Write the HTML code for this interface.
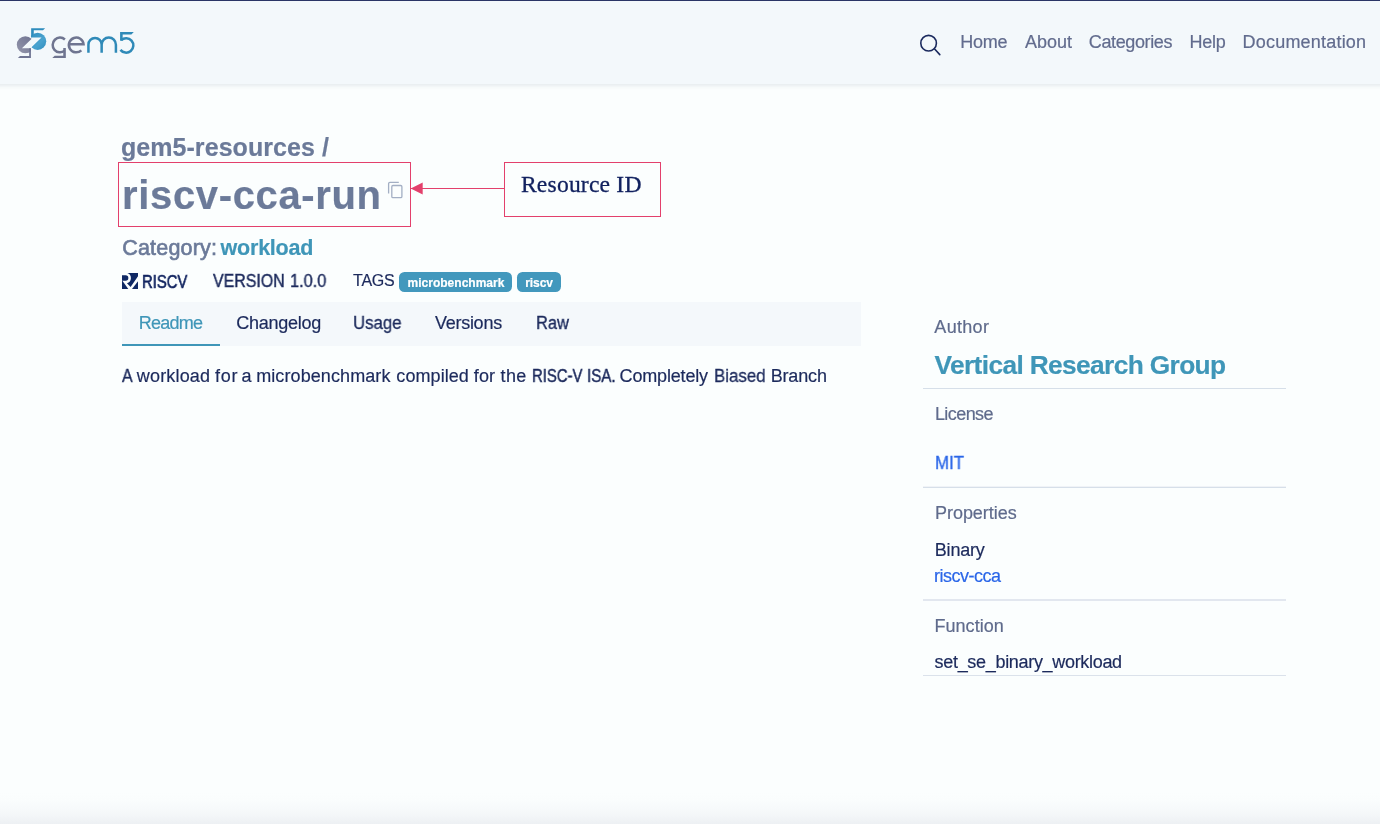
<!DOCTYPE html>
<html lang="en">
<head>
<meta charset="utf-8">
<title>gem5 Resources - riscv-cca-run</title>
<style>
*{box-sizing:border-box;margin:0;padding:0}
html,body{width:1380px;height:824px;overflow:hidden}
body{background:#fbfefe;font-family:"Liberation Sans",sans-serif;color:#1f2d5c;position:relative}
.t{position:absolute;white-space:nowrap;line-height:1;-webkit-text-stroke:0.2px}
.a{position:absolute}
#header{left:-30px;top:0;width:1440px;height:84px;background:#f3f8fb;box-shadow:0 1px 5px rgba(120,135,150,.22)}
#topline{left:0;top:0;width:1380px;height:1px;background:#2a3566}
#botgrad{left:0;top:792px;width:1380px;height:32px;background:linear-gradient(#fbfefe 0%,#fafdfd 25%,#f7fafb 50%,#f3f6f8 75%,#edf0f3 100%)}
.hr{position:absolute;left:923px;width:363px;height:1px;background:#d6dfe9}
.badge{position:absolute;top:271.8px;height:20.5px;border-radius:5.5px;background:#4298bd}
.pk{border:1px solid #e3406c}
</style>
</head>
<body>
<div id="wrap" style="position:absolute;left:0;top:0;width:1380px;height:824px;will-change:transform">
<div class="a" id="header"></div>
<div class="a" id="topline"></div>

<!-- logo -->
<svg class="a" style="left:0;top:0" width="150" height="70" viewBox="0 0 150 70">
<defs>
<linearGradient id="gg" x1="0" y1="1" x2="1" y2="0"><stop offset="0" stop-color="#9496ab"/><stop offset="1" stop-color="#6d7290"/></linearGradient>
<linearGradient id="gb" x1="0" y1="0" x2="1" y2="1"><stop offset="0" stop-color="#2e8cbd"/><stop offset=".6" stop-color="#4aa3cf"/><stop offset="1" stop-color="#2e8cbd"/></linearGradient>
<clipPath id="cg"><path d="M0 0 H455 V290 L215 525 H410 V800 H0 Z"/></clipPath>
<clipPath id="cb"><path d="M415 0 H900 V900 H400 V525 L640 290 H415 Z"/></clipPath>
</defs>
<g transform="translate(12,24) scale(0.046136)">
<g clip-path="url(#cg)"><circle cx="290" cy="450" r="186" fill="url(#gg)"/></g>
<path d="M372 525 H410 V737 H128 L173 692 H372 Z" fill="#6f7492"/>
<g clip-path="url(#cb)"><circle cx="556" cy="375" r="186" fill="url(#gb)"/></g>
<path d="M415 90 H718 L672 136 H472 V215 L415 300 Z" fill="#2e8cbd"/>
</g>
<g transform="translate(46,24) scale(0.069565)" fill="none" stroke-width="36">
<path d="M272 222 A106 106 0 1 0 266 386" stroke="#6f7590"/>
<path d="M248 345 H285 V490 H90 L125 455 H248 Z" fill="#6f7590" stroke="none"/>
<path d="M338 292 H540 A106 106 0 1 0 508 378" stroke="#6f7590"/>
<path d="M610 415 V297 A95 95 0 0 1 800 297 V415 M800 297 A102 102 0 0 1 1005 297 V415" stroke="#2f8ab8"/>
<path d="M1065 115 H1262 L1227 152 H1102 V240 H1065 Z" fill="#2f8ab8" stroke="none"/><path d="M1080 232 A104 104 0 1 1 1070 372" stroke="#2f8ab8"/>
</g>
</svg>


<!-- nav -->
<svg class="a" style="left:917px;top:32px" width="26" height="26" viewBox="0 0 26 26" fill="none" stroke="#1b2a5e" stroke-width="1.6" stroke-linecap="round"><circle cx="11.6" cy="11.2" r="7.8"/><path d="M17.4 16.8 L22.8 22.6"/></svg>
<div class="t" style="left:960.2px;top:33.4px;font-size:18px;color:#626c8e;letter-spacing:-0.267px">Home</div><div class="t" style="left:1025.1px;top:33.4px;font-size:18px;color:#626c8e;letter-spacing:-0.05px">About</div><div class="t" style="left:1088.85px;top:33.4px;font-size:18px;color:#626c8e;letter-spacing:-0.389px">Categories</div><div class="t" style="left:1189.55px;top:33.4px;font-size:18px;color:#626c8e;letter-spacing:-0.3px">Help</div><div class="t" style="left:1242.6px;top:33.4px;font-size:18px;color:#626c8e;letter-spacing:0.2px">Documentation</div>

<!-- title block -->
<div class="t" style="left:120.9px;top:134.9px;font-size:25px;font-weight:bold;color:#6b7a99;letter-spacing:0.067px">gem5-resources /</div>
<div class="a pk" style="left:118px;top:162px;width:293px;height:65px"></div>
<div class="t" style="left:122.0px;top:174.9px;font-size:40px;font-weight:bold;color:#6b7a99;letter-spacing:0.65px">riscv-cca-run</div>
<svg class="a" style="left:386px;top:180px" width="20" height="20" viewBox="0 0 20 20" fill="none" stroke="#a3afc4" stroke-width="1.3"><path d="M2.6 13.6 V3.7 a1.3 1.3 0 0 1 1.3 -1.3 H12.8"/><rect x="5.8" y="5.5" width="10.1" height="12.1" rx="1.2"/></svg>

<!-- annotation -->
<div class="a" style="left:411px;top:188px;width:94px;height:1px;background:#e3406c"></div>
<svg class="a" style="left:410px;top:182px" width="14" height="13" viewBox="0 0 14 13"><path d="M0.7 6.5 L12.7 0.5 V12.5 Z" fill="#e3406c"/></svg>
<div class="a pk" style="left:504px;top:162px;width:157px;height:55px"></div>
<div class="t" style="left:520.95px;top:172.9px;font-family:&quot;Liberation Serif&quot;,serif;font-size:23.6px;-webkit-text-stroke:0.3px #11215f;color:#11215f;letter-spacing:0.19px">Resource ID</div>

<!-- category -->
<div class="t" style="left:122.2px;top:238.2px;font-size:21.5px;-webkit-text-stroke:0.65px #6b7a99;color:#6b7a99;letter-spacing:0.2px">Category:</div><div class="t" style="left:220.6px;top:238.2px;font-size:21.5px;font-weight:bold;color:#3f96b8;letter-spacing:-0.229px">workload</div>

<!-- meta row -->
<svg class="a" style="left:122px;top:273px" width="16" height="16" viewBox="0 0 16 16" fill="#0f2864"><path d="M0 2.2 H3.6 a2.75 2.75 0 0 1 0 5.5 H0 Z"/><path d="M5.33 0 H16 V3.35 L8.6 14.1 L4.96 10.3 A5.41 5.41 0 0 0 5.33 0 Z"/><path d="M0 7.7 H0.36 L6.3 16 H0 Z"/><path d="M16 8.3 V16 H10 Z"/></svg>

<div class="t" style="left:142.08px;top:272.6px;font-size:18px;-webkit-text-stroke:0.6px #10235f;color:#10235f;transform:scaleX(0.8236);transform-origin:0 0;will-change:transform">RISCV</div><div class="t" style="left:213.0px;top:272.2px;font-size:18px;-webkit-text-stroke:0.45px #1c2a5c;color:#1c2a5c;transform:scaleX(0.885);transform-origin:0 0;will-change:transform">VERSION</div><div class="t" style="left:290.09px;top:272.2px;font-size:18px;color:#1c2a5c;-webkit-text-stroke:0.35px;transform:scaleX(0.9077);transform-origin:0 0;will-change:transform">1.0.0</div><div class="t" style="left:353.05px;top:272.6px;font-size:16px;color:#1c2a5c;letter-spacing:-0.233px">TAGS</div>
<div class="badge" style="left:399px;width:113px"></div>
<div class="badge" style="left:517px;width:44px"></div>
<div class="t" style="left:407.5px;top:276.9px;font-size:12px;font-weight:bold;color:#fff;letter-spacing:0.015px">microbenchmark</div><div class="t" style="left:525.25px;top:276.9px;font-size:12px;font-weight:bold;color:#fff;letter-spacing:-0.075px">riscv</div>

<!-- tabs -->
<div class="a" style="left:122px;top:302px;width:739px;height:44px;background:#f4f8fb"></div>
<div class="a" style="left:122px;top:344px;width:98px;height:2px;background:#3f96b8"></div>
<div class="t" style="left:138.7px;top:314.4px;font-size:18px;color:#3f96b8;letter-spacing:-0.72px">Readme</div><div class="t" style="left:236.2px;top:314.4px;font-size:18px;color:#1c2a5c;letter-spacing:-0.25px">Changelog</div><div class="t" style="left:352.67px;top:314.4px;font-size:18px;color:#1c2a5c;-webkit-text-stroke:0.31px;transform:scaleX(0.9333);transform-origin:0 0;will-change:transform">Usage</div><div class="t" style="left:434.9px;top:314.4px;font-size:18px;color:#1c2a5c;letter-spacing:-0.257px">Versions</div><div class="t" style="left:535.59px;top:314.4px;font-size:18px;color:#1c2a5c;-webkit-text-stroke:0.34px;transform:scaleX(0.9143);transform-origin:0 0;will-change:transform">Raw</div>

<div class="t" style="left:122.0px;top:366.7px;font-size:18px;color:#1c2a5c;-webkit-text-stroke:0.39px;transform:scaleX(0.8833);transform-origin:0 0;will-change:transform">A</div><div class="t" style="left:136.8px;top:366.7px;font-size:18px;color:#1c2a5c;letter-spacing:0.171px">workload</div><div class="t" style="left:214.9px;top:366.7px;font-size:18px;color:#1c2a5c;letter-spacing:0.8px">for</div><div class="t" style="left:241.6px;top:366.7px;font-size:18px;color:#1c2a5c">a</div><div class="t" style="left:256.2px;top:366.7px;font-size:18px;color:#1c2a5c;letter-spacing:0.092px">microbenchmark</div><div class="t" style="left:396.35px;top:366.7px;font-size:18px;color:#1c2a5c;letter-spacing:0.071px">compiled</div><div class="t" style="left:473.8px;top:366.7px;font-size:18px;color:#1c2a5c;letter-spacing:0.1px">for</div><div class="t" style="left:500.5px;top:366.7px;font-size:18px;color:#1c2a5c;letter-spacing:0.4px">the</div><div class="t" style="left:531.77px;top:366.7px;font-size:18px;color:#1c2a5c;-webkit-text-stroke:0.48px;transform:scaleX(0.8267);transform-origin:0 0;will-change:transform">RISC-V</div><div class="t" style="left:586.86px;top:366.7px;font-size:18px;color:#1c2a5c;-webkit-text-stroke:0.46px;transform:scaleX(0.8406);transform-origin:0 0;will-change:transform">ISA.</div><div class="t" style="left:619.55px;top:366.7px;font-size:18px;color:#1c2a5c;letter-spacing:-0.167px">Completely</div><div class="t" style="left:714.36px;top:366.7px;font-size:18px;color:#1c2a5c;-webkit-text-stroke:0.30px;transform:scaleX(0.9377);transform-origin:0 0;will-change:transform">Biased</div><div class="t" style="left:770.65px;top:366.7px;font-size:18px;color:#1c2a5c;letter-spacing:-0.14px">Branch</div>

<!-- sidebar -->
<div class="t" style="left:934.35px;top:318.2px;font-size:18px;color:#5f6b8c;letter-spacing:0.3px">Author</div><div class="t" style="left:934.55px;top:352.0px;font-size:26.3px;font-weight:bold;color:#3f96b8;letter-spacing:-0.632px">Vertical Research Group</div>
<div class="hr" style="top:388px"></div>
<div class="t" style="left:934.95px;top:404.8px;font-size:18px;color:#5f6b8c;letter-spacing:-0.583px">License</div><div class="t" style="left:934.76px;top:454.0px;font-size:18px;color:#2a66e8;-webkit-text-stroke:0.30px;transform:scaleX(0.9367);transform-origin:0 0;will-change:transform">MIT</div>
<div class="hr" style="top:486px;background:#f0f3f7"></div><div class="hr" style="top:487px"></div>
<div class="t" style="left:935.0px;top:503.9px;font-size:18px;color:#5f6b8c;letter-spacing:-0.044px">Properties</div><div class="t" style="left:934.75px;top:540.9px;font-size:18px;color:#1c2a5c;letter-spacing:-0.18px">Binary</div><div class="t" style="left:933.9px;top:566.7px;font-size:18px;color:#2a66e8;letter-spacing:-0.475px">riscv-cca</div>
<div class="hr" style="top:599px;height:2px;background:#e2e7ef"></div>
<div class="t" style="left:934.45px;top:616.8px;font-size:18px;color:#5f6b8c;letter-spacing:0.043px">Function</div><div class="t" style="left:934.6px;top:653.3px;font-size:18px;color:#1c2a5c;letter-spacing:-0.314px">set_se_binary_workload</div>
<div class="hr" style="top:675px;background:#dbe2eb"></div>

<div class="a" id="botgrad"></div>
</div>
</body>
</html>
